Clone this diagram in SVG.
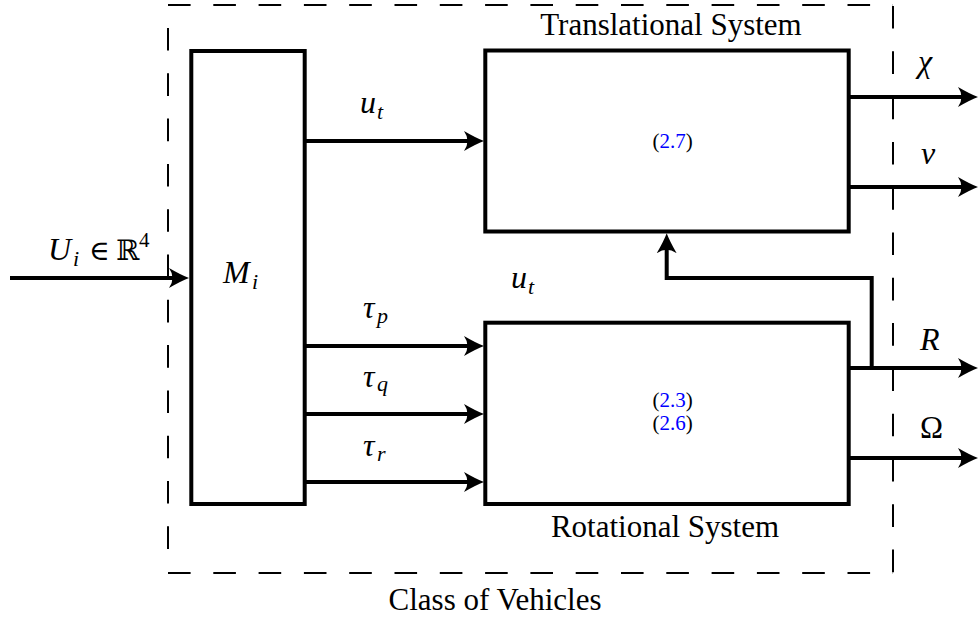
<svg xmlns="http://www.w3.org/2000/svg" width="980" height="623" viewBox="0 0 980 623">
  <style>
    .box { fill: #fff; stroke: #000; stroke-width: 4; }
    .wire { fill: none; stroke: #000; stroke-width: 4; stroke-linejoin: miter; marker-end: url(#ah); }
    .dash { fill: none; stroke: #000; stroke-width: 2; stroke-dasharray: 22.6 22.7; }
    .txt { font-family: "Liberation Serif", "Times New Roman", serif; font-size: 31px; fill: #000; }
    .math { font-family: "Liberation Serif", "Times New Roman", serif; font-style: italic; font-size: 32px; fill: #000; }
    .sub { font-family: "Liberation Serif", "Times New Roman", serif; font-style: italic; font-size: 22px; fill: #000; }
    .sym { font-family: "DejaVu Serif", "Liberation Serif", serif; font-size: 28px; fill: #000; }
    .ref { font-family: "Liberation Serif", "Times New Roman", serif; font-size: 21px; fill: #000; }
    .ref .num { fill: #0000ff; }
  </style>
  <defs>
    <marker id="ah" markerUnits="userSpaceOnUse" markerWidth="22" markerHeight="22" viewBox="0 -11 22 22" refX="8" refY="0" orient="auto">
      <path d="M20 0 Q12 -3 0 -10 Q7 0 0 10 Q12 3 20 0 Z" fill="#000"/>
    </marker>
  </defs>

  <!-- dashed boundary of the vehicle class -->
  <g id="vehicle-class">
    <path class="dash" d="M168 5 H893"/>
    <path class="dash" d="M168 28 V550"/>
    <path class="dash" d="M168 573 H893"/>
    <path class="dash" d="M893 6 V573"/>
    <text class="txt" x="495" y="610" text-anchor="middle">Class of Vehicles</text>
  </g>

  <!-- input mapping block -->
  <g id="node-mixer">
    <rect class="box" x="191.3" y="51" width="113.4" height="453"/>
    <text class="math" x="223" y="283">M</text>
    <text class="sub" x="252" y="289">i</text>
  </g>

  <!-- translational dynamics block -->
  <g id="node-translational">
    <rect class="box" x="485.3" y="50.5" width="363.4" height="181"/>
    <text class="txt" x="671" y="35" text-anchor="middle">Translational System</text>
    <text class="ref" x="672.5" y="148" text-anchor="middle">(<tspan class="num">2.7</tspan>)</text>
  </g>

  <!-- rotational dynamics block -->
  <g id="node-rotational">
    <rect class="box" x="485.3" y="322.7" width="363.4" height="181.3"/>
    <text class="txt" x="665" y="537" text-anchor="middle">Rotational System</text>
    <text class="ref" x="672.5" y="407" text-anchor="middle">(<tspan class="num">2.3</tspan>)</text>
    <text class="ref" x="672.5" y="430" text-anchor="middle">(<tspan class="num">2.6</tspan>)</text>
  </g>

  <!-- signal lines -->
  <g id="connectors">
    <path class="wire" d="M10 278 H177"/>
    <path class="wire" d="M304.7 141 H472"/>
    <path class="wire" d="M304.7 346 H472"/>
    <path class="wire" d="M304.7 414 H472"/>
    <path class="wire" d="M304.7 482 H472"/>
    <path class="wire" d="M848.7 97 H966"/>
    <path class="wire" d="M848.7 187 H966"/>
    <path class="wire" d="M848.7 368 H966"/>
    <path class="wire" d="M848.7 458 H966"/>
    <path class="wire" d="M871.7 370 V278 H666.7 V245.3"/>
  </g>

  <!-- signal labels -->
  <g id="labels">
    <text class="math" x="48" y="260">U</text>
    <text class="sub" x="73" y="266">i</text>
    <text class="sym" x="89" y="260">∈</text>
    <text class="sym" x="116" y="260">ℝ</text>
    <text class="ref" x="139" y="247">4</text>

    <text class="math" x="360" y="113">u</text>
    <text class="sub" x="377" y="119">t</text>

    <text class="math" x="511" y="288">u</text>
    <text class="sub" x="528" y="294">t</text>

    <text class="math" x="363" y="318">τ</text>
    <text class="sub" x="377" y="323">p</text>
    <text class="math" x="363" y="387">τ</text>
    <text class="sub" x="377" y="391">q</text>
    <text class="math" x="363" y="456">τ</text>
    <text class="sub" x="377" y="461">r</text>

    <text class="math" x="918" y="72">χ</text>
    <text class="math" x="921" y="164">v</text>
    <text class="math" x="920" y="350">R</text>
    <text class="txt" x="920" y="438">Ω</text>
  </g>
</svg>
